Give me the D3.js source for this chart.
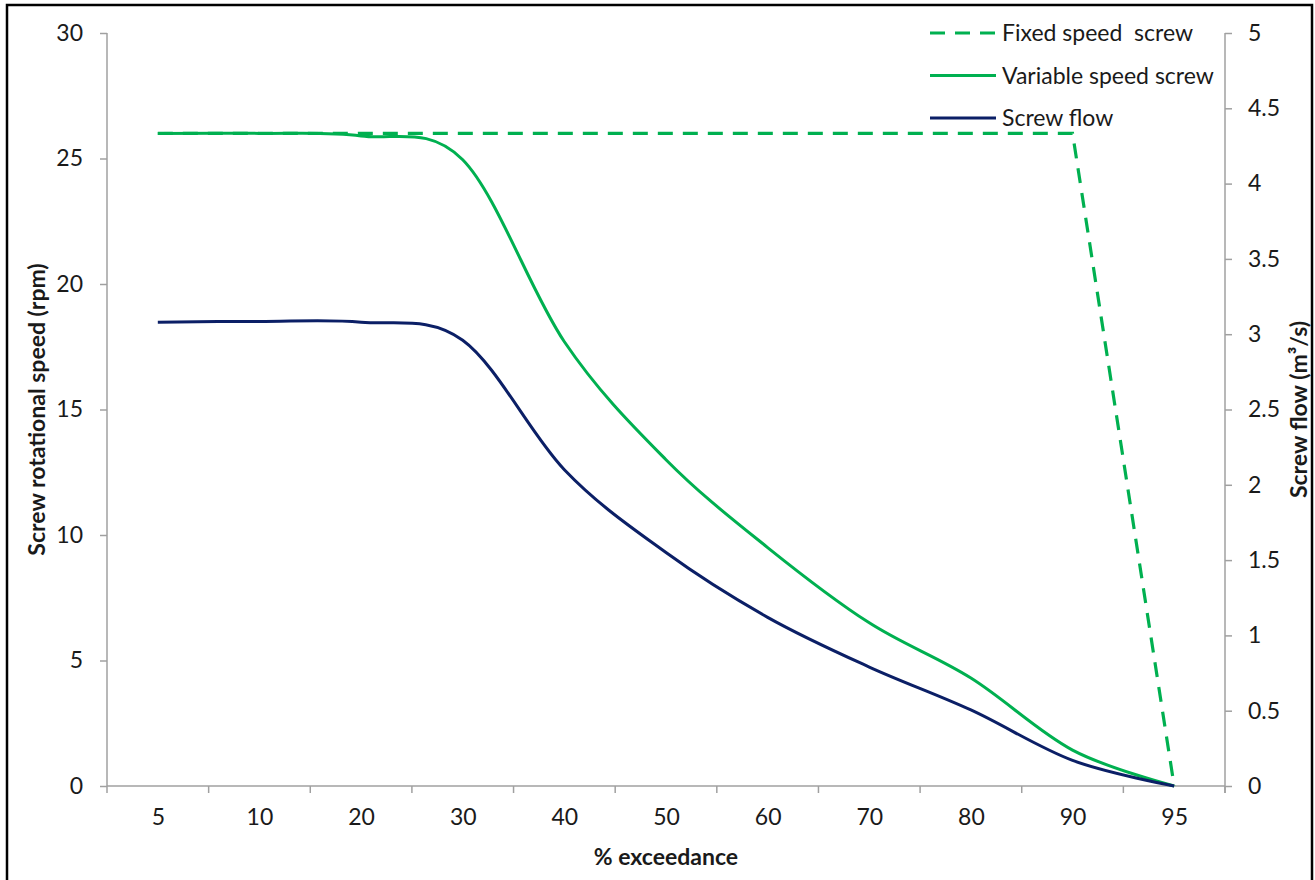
<!DOCTYPE html>
<html>
<head>
<meta charset="utf-8">
<script src="https://cdn.jsdelivr.net/npm/d3@7/dist/d3.min.js"></script>
<style>
  html, body { margin: 0; padding: 0; background: #ffffff; }
  svg { display: block; font-family: Lato, "Open Sans", sans-serif; }
</style>
</head>
<body>
<svg id="chart" width="1315" height="880"></svg>
<script>
// Exceedance categories (equally spaced on the x axis)
const categories = ["5", "10", "20", "30", "40", "50", "60", "70", "80", "90", "95"];

// Screw rotational speed (rpm), left axis
const fixedSpeed    = [26, 26, 26, 26, 26, 26, 26, 26, 26, 26, 0];
const variableSpeed = [26, 26, 25.9, 24.95, 17.7, 13.0, 9.5, 6.5, 4.3, 1.43, 0];

// Screw flow (m³/s), right axis
const screwFlow = [3.08, 3.085, 3.08, 2.96, 2.1, 1.55, 1.12, 0.79, 0.505, 0.17, 0];

// Axis tick values
const leftTicks  = [0, 5, 10, 15, 20, 25, 30];
const rightTicks = [0, 0.5, 1, 1.5, 2, 2.5, 3, 3.5, 4, 4.5, 5];

const legendItems = [
  { label: "Fixed speed  screw",   color: "#00B050", dash: "15,10" },
  { label: "Variable speed screw", color: "#00B050", dash: null },
  { label: "Screw flow",           color: "#0B1F66", dash: null }
];

const svg = d3.select("#chart");
const plot = { left: 107, right: 1225, top: 33, bottom: 786 };
const axisColor = "#A0A0A0";
const textColor = "#1a1a1a";
const fontSize = 23;

// Outer frame
svg.append("rect")
  .attr("x", 7).attr("y", 5).attr("width", 1305).attr("height", 900)
  .attr("fill", "none").attr("stroke", "#000").attr("stroke-width", 2.5);

const x = d3.scalePoint(categories, [plot.left, plot.right]).padding(0.5);
const xBand = d3.scaleBand(categories, [plot.left, plot.right]);
const yL = d3.scaleLinear([0, 30], [plot.bottom, plot.top]);
const yR = d3.scaleLinear([0, 5], [plot.bottom, plot.top]);

// Left axis
const gL = svg.append("g").attr("transform", `translate(${plot.left},0)`)
  .call(d3.axisLeft(yL).tickValues(leftTicks).tickSize(7).tickPadding(17).tickFormat(d3.format("d")));
// Right axis
const gR = svg.append("g").attr("transform", `translate(${plot.right},0)`)
  .call(d3.axisRight(yR).tickValues(rightTicks).tickSize(7).tickPadding(16).tickFormat(d => String(d)));
// Bottom axis: labels at category centres
const gB = svg.append("g").attr("transform", `translate(0,${plot.bottom})`)
  .call(d3.axisBottom(x).tickSize(0).tickPadding(23));
// Bottom axis: tick marks between categories
const boundaries = categories.map(c => xBand(c)).concat([xBand(categories[categories.length - 1]) + xBand.bandwidth()]);
svg.append("g").selectAll("line").data(boundaries).join("line")
  .attr("x1", d => d).attr("x2", d => d)
  .attr("y1", plot.bottom).attr("y2", plot.bottom + 7)
  .attr("stroke", axisColor).attr("stroke-width", 1.5);

[gL, gR, gB].forEach(g => {
  g.select(".domain").attr("stroke", axisColor).attr("stroke-width", 1.5);
  g.selectAll(".tick line").attr("stroke", axisColor).attr("stroke-width", 1.5);
  g.selectAll(".tick text").attr("fill", textColor).style("font-size", fontSize + "px")
    .style("font-family", "Lato, sans-serif");
});
gB.select(".domain").attr("d", `M${plot.left},0H${plot.right}`);
gL.select(".domain").attr("d", `M0,${plot.top}V${plot.bottom}`);
gR.select(".domain").attr("d", `M0,${plot.top}V${plot.bottom + 7}`);

// Axis titles
svg.append("text")
  .attr("x", (plot.left + plot.right) / 2).attr("y", 865)
  .attr("text-anchor", "middle").attr("fill", textColor)
  .style("font-size", fontSize + "px").style("font-weight", "bold")
  .text("% exceedance");

svg.append("text")
  .attr("transform", `translate(45,${(plot.top + plot.bottom) / 2}) rotate(-90)`)
  .attr("text-anchor", "middle").attr("fill", textColor)
  .style("font-size", fontSize + "px").style("font-weight", "bold")
  .text("Screw rotational speed (rpm)");

svg.append("text")
  .attr("transform", `translate(1307,${(plot.top + plot.bottom) / 2}) rotate(-90)`)
  .attr("text-anchor", "middle").attr("fill", textColor)
  .style("font-size", fontSize + "px").style("font-weight", "bold")
  .text("Screw flow (m³/s)");

// Series lines
const lineFixed = d3.line().x((d, i) => x(categories[i])).y(d => yL(d)).curve(d3.curveLinear);
const lineSmoothL = d3.line().x((d, i) => x(categories[i])).y(d => yL(d)).curve(d3.curveCatmullRom.alpha(0));
const lineSmoothR = d3.line().x((d, i) => x(categories[i])).y(d => yR(d)).curve(d3.curveCatmullRom.alpha(0));

svg.append("path").datum(fixedSpeed).attr("d", lineFixed)
  .attr("fill", "none").attr("stroke", legendItems[0].color).attr("stroke-width", 3.2)
  .attr("stroke-dasharray", legendItems[0].dash);
svg.append("path").datum(variableSpeed).attr("d", lineSmoothL)
  .attr("fill", "none").attr("stroke", legendItems[1].color).attr("stroke-width", 3)
  .attr("stroke-linejoin", "round");
svg.append("path").datum(screwFlow).attr("d", lineSmoothR)
  .attr("fill", "none").attr("stroke", legendItems[2].color).attr("stroke-width", 3)
  .attr("stroke-linejoin", "round");

// Legend
const legend = svg.append("g");
const rows = legend.selectAll("g").data(legendItems).join("g")
  .attr("transform", (d, i) => `translate(930,${33 + i * 42.5})`);
rows.append("line")
  .attr("x1", 0).attr("x2", 66).attr("y1", 0).attr("y2", 0)
  .attr("stroke", d => d.color).attr("stroke-width", 3.2)
  .attr("stroke-dasharray", d => d.dash);
rows.append("text")
  .attr("x", 72).attr("y", 0).attr("dy", "0.35em")
  .attr("fill", textColor).style("font-size", fontSize + "px")
  .style("white-space", "pre")
  .text(d => d.label);
</script>
</body>
</html>
